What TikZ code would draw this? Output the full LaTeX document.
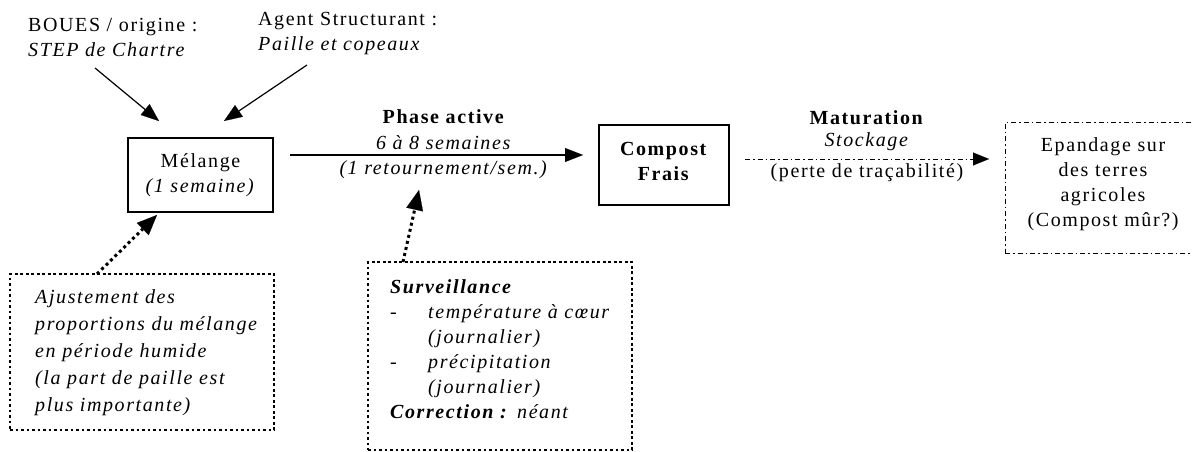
\documentclass[tikz,border=0pt]{standalone}
\usepackage{fontspec}
\setmainfont{Liberation Serif}[LetterSpace=8]
\usetikzlibrary{arrows.meta}

\tikzset{
  txt/.style={font=\fontsize{20}{25}\selectfont, inner sep=0pt, align=center},
  solidbox/.style={draw, line width=1.4pt},
  dotbox/.style={draw, line width=2.6pt, dash pattern=on 2.6pt off 2.9pt},
  ddbox/.style={draw, line width=1pt, dash pattern=on 5pt off 3pt on 1.5pt off 3pt},
  arr/.style={line width=1.2pt, -{Triangle[length=18pt,width=14pt,line width=0.1pt]}},
  ddarr/.style={line width=1pt, dash pattern=on 5pt off 3pt on 1.5pt off 3pt,
                -{Triangle[length=16pt,width=13pt,line width=0.1pt]}},
  dotarr/.style={line width=3pt, dash pattern=on 3pt off 3.2pt,
                -{Triangle[length=20pt,width=17pt,line width=0.1pt]}},
}

\begin{document}
\begin{tikzpicture}[x=1pt,y=-1pt]
  \fill[white] (0,0) rectangle (1192,452);
  \useasboundingbox (0,0) rectangle (1192,452);

  % inputs
  \node[txt, align=left, anchor=west] (boues) at (28,37)
    {BOUES / origine :\\\textit{STEP de Chartre}};
  \node[txt, align=left, anchor=west] (agent) at (258,34)
    {Agent Structurant :\\\textit{Paille et copeaux}};

  % mixing step
  \node[solidbox, txt, minimum width=145pt, minimum height=74pt] (melange)
    at (200.5,175) {Mélange\\\textit{(1 semaine)}};

  \coordinate (b1) at (95,68);
  \coordinate (b2) at (159,121);
  \coordinate (c1) at (307,65);
  \coordinate (c2) at (224,121);
  \draw[arr] (b1) -- (b2);
  \draw[arr] (c1) -- (c2);

  % active phase
  \node[txt] (phase) at (444,117) {\textbf{Phase active}};
  \node[txt] (duree) at (444,143) {\textit{6 à 8 semaines}};
  \node[txt] (retour) at (444,170) {\textit{(1 retournement/sem.)}};
  \coordinate (p1) at (290,155);
  \coordinate (p2) at (583,155);
  \draw[arr] (p1) -- (p2);

  % fresh compost
  \node[solidbox, minimum width=130pt, minimum height=80pt, inner sep=0pt]
    (compost) at (664,165) {};
  \node[txt] (compostlbl) at (664,161) {\textbf{Compost}\\\textbf{Frais}};

  % maturation
  \node[txt] (matur) at (867,118) {\textbf{Maturation}};
  \node[txt] (stock) at (867,142) {\textit{Stockage}};
  \node[txt] (perte) at (867,173) {(perte de traçabilité)};
  \coordinate (m1) at (745,159);
  \coordinate (m2) at (989,159);
  \draw[ddarr] (m1) -- (m2);

  % spreading (frame runs past the right border)
  \node[ddbox, minimum width=215pt, minimum height=131pt, inner sep=0pt]
    (epandage) at (1112.5,187.5) {};
  \node[txt] (epandagetxt) at (1103,184)
    {Epandage sur\\des terres\\agricoles\\(Compost mûr?)};

  % adjustment note
  \node[dotbox, minimum width=264pt, minimum height=156pt, inner sep=0pt]
    (ajust) at (142,352) {};
  \node[txt, align=left, anchor=west, font=\fontsize{20}{27}\selectfont\itshape]
    (ajusttxt) at (35,352.5)
    {Ajustement des\\proportions du mélange\\en période humide\\(la part de paille est\\plus importante)};
  \coordinate (a1) at (97,274);
  \coordinate (a2) at (157,215);
  \draw[dotarr] (a1) -- (a2);

  % monitoring note
  \node[dotbox, minimum width=264pt, minimum height=188pt, inner sep=0pt]
    (surv) at (500,356) {};
  \node[txt, align=left, anchor=west] (survtxt) at (390,349.5)
    {\textbf{\textit{Surveillance}}\\
     \makebox[38pt][l]{-}\textit{température à cœur}\\
     \hspace*{38pt}\textit{(journalier)}\\
     \makebox[38pt][l]{-}\textit{précipitation}\\
     \hspace*{38pt}\textit{(journalier)}\\
     \textbf{\textit{Correction :}} \textit{néant}};
  \coordinate (s1) at (403,262);
  \coordinate (s2) at (419,190);
  \draw[dotarr] (s1) -- (s2);
\end{tikzpicture}
\end{document}
